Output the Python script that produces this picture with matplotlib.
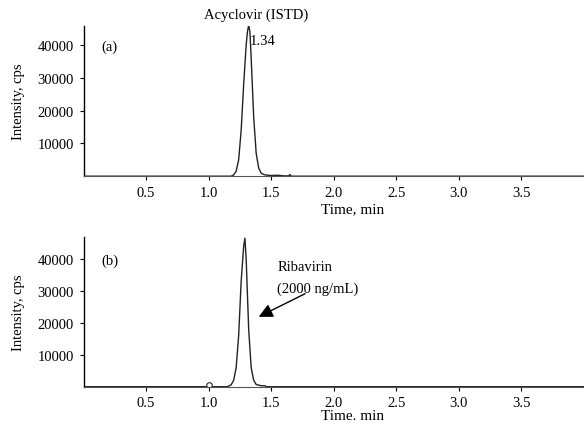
import matplotlib.pyplot as plt

# chromatogram (a): acyclovir (ISTD)
time_a = [0.0, 1.18, 1.20, 1.22, 1.24, 1.26, 1.28, 1.30, 1.31, 1.32, 1.33, 1.34,
          1.35, 1.36, 1.38, 1.40, 1.42, 1.45, 1.50, 1.55, 1.60, 1.64, 1.65, 1.66, 4.0]
int_a = [0, 0, 400, 1500, 5000, 14000, 28000, 40000, 44000, 46000, 44000, 36000,
         27000, 18000, 7000, 2500, 900, 400, 200, 300, 100, 100, 500, 0, 0]

# chromatogram (b): ribavirin 2000 ng/mL
time_b = [0.0, 0.98, 1.0, 1.02, 1.15, 1.18, 1.20, 1.22, 1.24, 1.26, 1.28, 1.29,
          1.30, 1.32, 1.34, 1.36, 1.38, 1.42, 1.45, 1.46, 4.0]
int_b = [0, 0, 600, 0, 0, 600, 2000, 6000, 16000, 33000, 44000, 46500,
         40000, 18000, 6000, 2000, 700, 300, 300, 0, 0]

xticks = [0.5, 1.0, 1.5, 2.0, 2.5, 3.0, 3.5]
yticks = [10000, 20000, 30000, 40000]

plt.rcParams['font.family'] = 'Liberation Serif'
plt.rcParams['font.size'] = 10.5

fig = plt.figure(figsize=(5.84, 4.27), dpi=100)
ax1 = fig.add_axes([0.143, 0.585, 0.857, 0.352])
ax2 = fig.add_axes([0.143, 0.092, 0.857, 0.350])

for ax in (ax1, ax2):
    ax.spines['top'].set_visible(False)
    ax.spines['right'].set_visible(False)
    ax.spines['left'].set_linewidth(1.0)
    ax.spines['bottom'].set_linewidth(0.8)
    ax.spines['bottom'].set_color('#555555')
    ax.set_xlim(0, 4.0)
    ax.set_xticks(xticks)
    ax.set_yticks(yticks)
    ax.tick_params(length=3, width=0.8, direction='out', pad=4, labelsize=10.5)
    ax.set_ylabel('Intensity, cps', fontsize=10.5, labelpad=9)

ax1.plot(time_a, int_a, color='#222222', lw=1.0)
ax1.set_ylim(0, 45800)
ax1.set_xlabel('Time, min', fontsize=11, labelpad=2)
ax1.xaxis.label.set_x(0.538)
ax1.text(0.21, 39500, '(a)', ha='center', va='center')
ax1.text(1.38, 49500, 'Acyclovir (ISTD)', ha='center', va='center', clip_on=False)
ax1.text(1.325, 41500, '1.34', ha='left', va='center')

ax2.plot(time_b, int_b, color='#222222', lw=1.0)
ax2.plot([1.0], [500], marker='o', ms=4, mfc='white', mec='#222222', mew=0.8)
ax2.set_ylim(0, 46800)
ax2.set_xlabel('Time. min', fontsize=11, labelpad=0)
ax2.xaxis.label.set_x(0.538)
ax2.text(0.21, 39500, '(b)', ha='center', va='center')
ax2.text(1.55, 37500, 'Ribavirin', ha='left', va='center')
ax2.text(1.55, 30800, '(2000 ng/mL)', ha='left', va='center')
ax2.annotate('', xy=(1.38, 21500), xytext=(1.79, 29500),
             arrowprops=dict(arrowstyle='-|>,head_length=0.8,head_width=0.4',
                             color='black', lw=1.0))

fig.savefig('out.png', dpi=100)
